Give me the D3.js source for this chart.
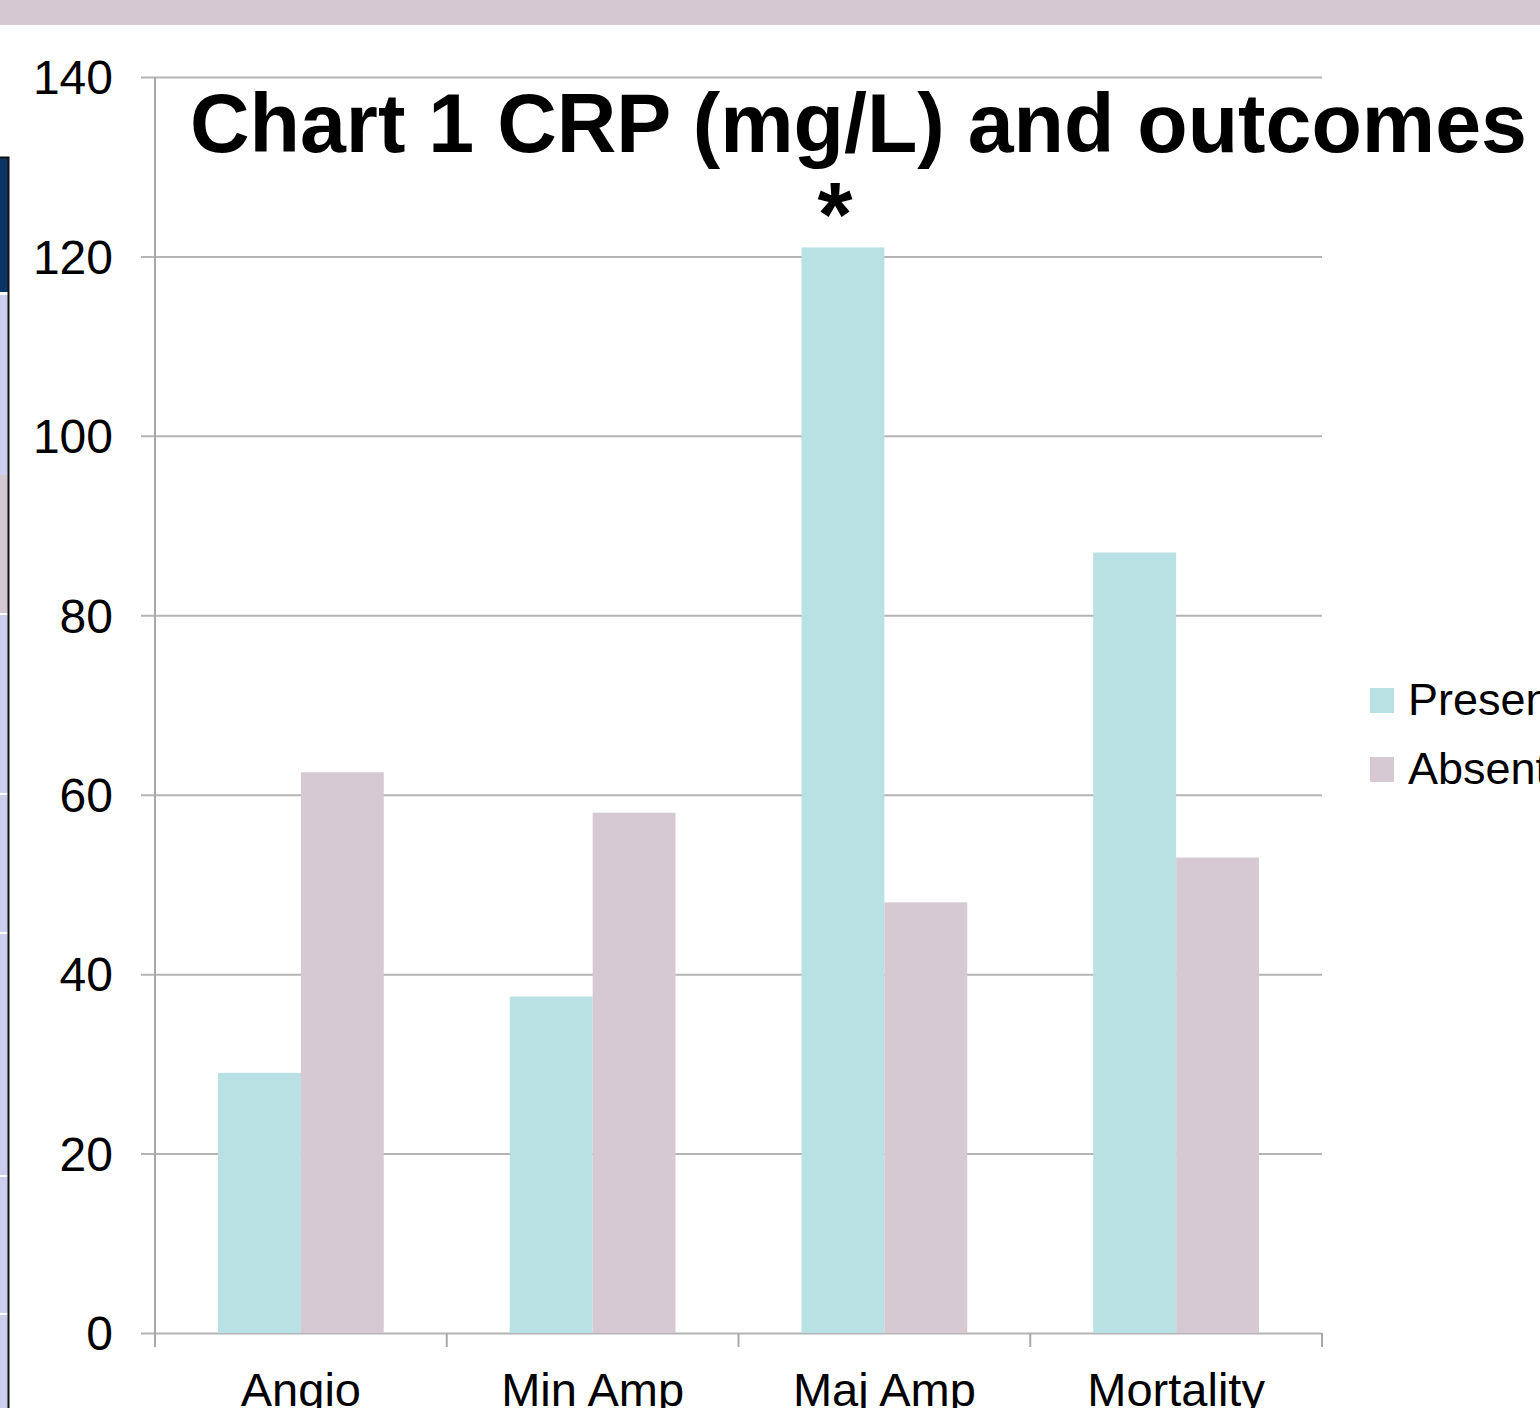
<!DOCTYPE html>
<html>
<head>
<meta charset="utf-8">
<script src="https://cdn.jsdelivr.net/npm/d3@7"></script>
<style>
  html, body { margin: 0; padding: 0; background: #fff; overflow: hidden; }
  svg { display: block; font-family: "Liberation Sans", Arial, sans-serif; }
</style>
</head>
<body>
<div id="container"></div>
<script>
// chart data
var categories = ["Angio", "Min Amp", "Maj Amp", "Mortality"];
var seriesNames = ["Present", "Absent"];
var presentValues = [29, 37.5, 121, 87];
var absentValues = [62.5, 58, 48, 53];
var yTicks = [0, 20, 40, 60, 80, 100, 120, 140];

var w = 1540, h = 1408;

var svg = d3.select("div#container")
  .append("svg")
  .attr("width", w)
  .attr("height", h);

svg.append("rect")
  .attr("width", w)
  .attr("height", h)
  .attr("fill", "#ffffff");

// slide decoration: top band and left strip
svg.append("rect").attr("x", 0).attr("y", 0).attr("width", w).attr("height", 25).attr("fill", "#d6c8d2");
svg.append("rect").attr("x", 0).attr("y", 157).attr("width", 8).attr("height", h - 157).attr("fill", "#cdcfee");
svg.append("rect").attr("x", 0).attr("y", 157).attr("width", 8).attr("height", 135).attr("fill", "#0c3464");
svg.append("rect").attr("x", 0).attr("y", 292).attr("width", 8).attr("height", 3).attr("fill", "#ffffff");
svg.append("rect").attr("x", 0).attr("y", 475).attr("width", 8).attr("height", 138).attr("fill", "#d6c8d2");
[613, 793, 932, 1175, 1313].forEach(function(yy) {
  svg.append("rect").attr("x", 0).attr("y", yy).attr("width", 8).attr("height", 2).attr("fill", "#ffffff");
});
svg.append("path")
  .attr("d", "M0,157.5H8.5V" + h)
  .attr("fill", "none")
  .attr("stroke", "#111")
  .attr("stroke-width", 2);

// scales
var margin = {left: 155, right: 1322, top: 77, bottom: 1333};

var x0 = d3.scaleBand()
  .domain(categories)
  .range([margin.left, margin.right])
  .padding(0);

var x1 = d3.scaleBand()
  .domain(seriesNames)
  .range([0, x0.bandwidth()])
  .paddingInner(0)
  .paddingOuter(0.76);

var y = d3.scaleLinear()
  .domain([0, 140])
  .range([margin.bottom, margin.top]);

var color = d3.scaleOrdinal()
  .domain(seriesNames)
  .range(["#b9e0e3", "#d6c9d2"]);

// gridlines, with stubs left of the axis
var gy = svg.append("g")
  .attr("transform", "translate(" + margin.right + ",0)")
  .call(d3.axisLeft(y).tickValues(yTicks).tickSize(margin.right - margin.left + 14).tickFormat(""));
gy.select(".domain").remove();
gy.selectAll(".tick line").attr("stroke", "#b4b4b4").attr("stroke-width", 2);

// y tick labels
svg.append("g")
  .selectAll("text")
  .data(yTicks)
  .enter().append("text")
  .attr("x", 113)
  .attr("y", function(d) { return y(d); })
  .attr("dy", "0.36em")
  .attr("text-anchor", "end")
  .attr("font-size", 48)
  .attr("fill", "#000")
  .text(function(d) { return d; });

// bars
var rows = categories.map(function(c, i) {
  return {category: c, values: [
    {series: "Present", value: presentValues[i]},
    {series: "Absent", value: absentValues[i]}
  ]};
});

var groups = svg.append("g")
  .selectAll("g")
  .data(rows)
  .enter().append("g")
  .attr("transform", function(d) { return "translate(" + x0(d.category) + ",0)"; });

groups.selectAll("rect")
  .data(function(d) { return d.values; })
  .enter().append("rect")
  .attr("x", function(d) { return x1(d.series); })
  .attr("y", function(d) { return y(d.value); })
  .attr("width", x1.bandwidth())
  .attr("height", function(d) { return y(0) - y(d.value); })
  .attr("fill", function(d) { return color(d.series); });

// axis lines
svg.append("line")
  .attr("x1", margin.left).attr("x2", margin.left)
  .attr("y1", margin.top).attr("y2", margin.bottom + 14)
  .attr("stroke", "#a8a8a8").attr("stroke-width", 2);

var bounds = categories.map(function(c) { return x0(c); }).concat([margin.right]);
svg.append("g")
  .selectAll("line")
  .data(bounds)
  .enter().append("line")
  .attr("x1", function(d) { return d; })
  .attr("x2", function(d) { return d; })
  .attr("y1", margin.bottom)
  .attr("y2", margin.bottom + 14)
  .attr("stroke", "#a8a8a8").attr("stroke-width", 2);

// category labels (bottom is cropped in the original)
svg.append("g")
  .selectAll("text")
  .data(categories)
  .enter().append("text")
  .attr("x", function(d) { return x0(d) + x0.bandwidth() / 2; })
  .attr("y", 1406)
  .attr("text-anchor", "middle")
  .attr("font-size", 47)
  .attr("fill", "#000")
  .text(function(d) { return d; });

// title and significance mark
svg.append("text")
  .attr("x", 190)
  .attr("y", 152)
  .attr("font-size", 82.5)
  .attr("font-weight", "bold")
  .attr("fill", "#000")
  .text("Chart 1 CRP (mg/L) and outcomes");

svg.append("text")
  .attr("x", x0("Maj Amp") + x1("Present") + x1.bandwidth() / 2 - 8)
  .attr("y", 246)
  .attr("text-anchor", "middle")
  .attr("font-size", 90)
  .attr("font-weight", "bold")
  .attr("fill", "#000")
  .text("*");

// legend
var legend = svg.append("g")
  .selectAll("g")
  .data(seriesNames)
  .enter().append("g")
  .attr("transform", function(d, i) { return "translate(1370," + (688 + i * 69) + ")"; });

legend.append("rect")
  .attr("width", 24)
  .attr("height", 25)
  .attr("fill", function(d) { return color(d); });

legend.append("text")
  .attr("x", 38)
  .attr("y", 27)
  .attr("font-size", 45)
  .attr("fill", "#000")
  .text(function(d) { return d; });
</script>
</body>
</html>
